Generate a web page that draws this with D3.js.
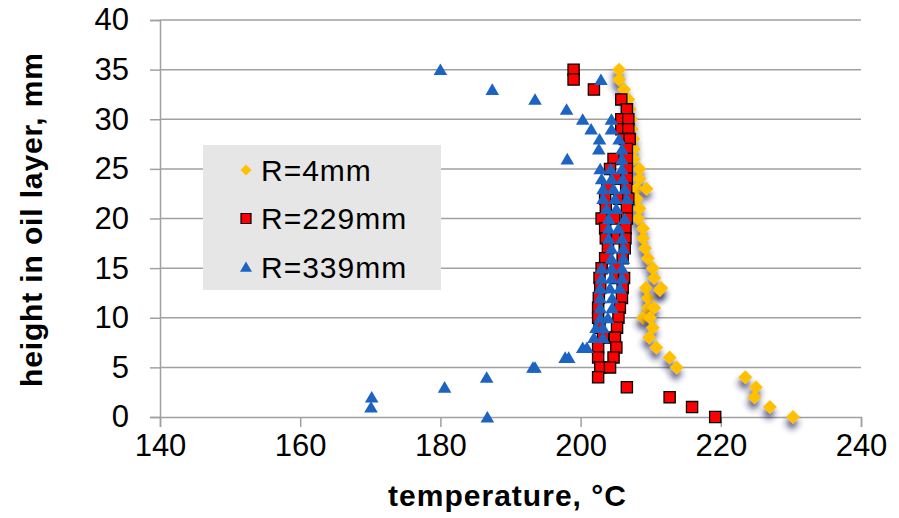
<!DOCTYPE html>
<html>
<head>
<meta charset="utf-8">
<script src="https://cdn.jsdelivr.net/npm/d3@7"></script>
<style>
    body { margin: 0; background: #fff; }
    text { font-family: "Liberation Sans", Arial, sans-serif; fill: #000; }
</style>
</head>
<body>
<script>
// R=4mm (diamonds)
var r4Temp = [205.5, 205.5, 206.2, 206.8, 207.0, 207.2, 207.3, 207.5, 207.6, 207.6, 208.4, 208.4, 208.0, 209.4, 208.0, 208.4, 208.2,
    208.9, 208.9, 209.2, 209.6, 210.3, 210.5, 211.5, 209.3, 209.6, 211.3, 209.6, 210.5, 208.9, 209.9, 210.3, 209.8, 210.8,
    212.7, 213.7, 223.5, 225.0, 224.8, 227.0, 230.3];
var r4Height = [35, 34, 33, 32, 31, 30, 29, 28, 27, 26, 25, 24, 23, 23, 22, 21, 20,
    19, 18, 17, 16, 15, 14, 13, 13, 12, 12.8, 11, 11, 10, 10, 9, 8, 7,
    6, 5, 4, 3, 2, 1, 0];

// R=229mm (squares)
var r229Temp = [199.0, 199.0, 201.9, 205.8, 206.6, 205.8, 206.8, 205.8, 206.8, 206.3, 207.0, 206.6, 204.7, 206.6, 204.2, 206.6,
    205.0, 206.6, 203.8, 206.5, 203.5, 205.5, 206.8, 203.6, 206.6, 203.0, 204.8, 206.6, 203.5, 206.4, 203.6, 205.2, 206.4,
    203.9, 206.3, 203.5, 206.0, 203.0, 205.2, 202.7, 205.0, 206.2, 202.8, 206.0, 202.6, 205.9,
    202.5, 205.6, 202.5, 205.4, 202.7, 205.2, 203.2, 204.9, 202.5, 205.1, 202.5, 204.7, 202.8, 204.2,
    202.5, 206.6, 212.7, 215.9, 219.2];
var r229Height = [35, 34, 33, 32, 31, 30, 30, 29, 29, 28, 28, 27, 26, 26, 25, 25,
    24, 24, 23, 23, 22, 22, 22, 21, 21, 20, 20, 20, 19, 19, 18, 18, 18,
    17, 17, 16, 16, 15, 15, 14, 14, 14, 13, 13, 12, 12,
    11, 11, 10, 10, 9, 9, 8, 8, 7, 7, 6, 6, 5, 5,
    4, 3, 2, 1, 0];

// R=339mm (triangles)
var r339Temp = [180.0, 202.9, 187.4, 193.5, 198.0, 200.3, 204.4, 201.5, 204.4, 202.7, 205.5, 202.6, 205.9, 198.1, 205.9,
    202.8, 204.3, 205.9, 203.0, 204.4, 206.0, 203.2, 204.7, 206.3, 203.2, 204.9, 206.6, 203.7, 205.1, 204.0, 206.3,
    204.0, 205.4, 204.0, 205.9, 204.4, 206.1, 204.4, 206.1, 203.0, 204.4, 205.9, 203.0, 204.4, 205.9, 202.8, 204.2, 205.6,
    202.8, 204.5, 202.8, 204.5, 202.8, 203.9, 202.2, 203.2, 201.9, 203.2, 200.3, 200.9, 197.8, 198.3, 193.2, 193.5,
    186.6, 180.6, 170.2, 170.1, 186.7];
var r339Height = [35, 34, 33, 32, 31, 30, 30, 29, 29, 28, 28, 27, 27, 26, 26,
    25, 25, 25, 24, 24, 24, 23, 23, 23, 22, 22, 22, 21, 21, 20, 20,
    19, 19, 18, 18, 17, 17, 16, 16, 15, 15, 15, 14, 14, 14, 13, 13, 13,
    12, 12, 11, 11, 10, 10, 9, 9, 8, 8, 7, 7, 6, 6, 5, 5,
    4, 3, 2, 1, 0];

var seriesNames = ['R=4mm', 'R=229mm', 'R=339mm'];
var xTicks = [140, 160, 180, 200, 220, 240];
var yTicks = [0, 5, 10, 15, 20, 25, 30, 35, 40];

var w = 899, h = 518;
var plotLeft = 160, plotRight = 861, plotTop = 20, plotBottom = 417;

var svg = d3.select('body')
    .append('svg')
    .attr('width', w)
    .attr('height', h);

// shadow for the diamonds
var defs = svg.append('defs');
var filt = defs.append('filter')
    .attr('id', 'shadow')
    .attr('x', '-150%').attr('y', '-150%')
    .attr('width', '400%').attr('height', '400%');
filt.append('feDropShadow')
    .attr('dx', -1)
    .attr('dy', 6)
    .attr('stdDeviation', 3)
    .attr('flood-color', '#23235a')
    .attr('flood-opacity', 0.75);

var x = d3.scaleLinear()
    .domain([140, 240])
    .range([plotLeft, plotRight]);
var y = d3.scaleLinear()
    .domain([0, 40])
    .range([plotBottom, plotTop]);

// gridlines
svg.append('g')
    .selectAll('line')
    .data(yTicks.filter(function(d) { return d > 0; }))
    .enter()
    .append('line')
    .attr('x1', plotLeft)
    .attr('x2', plotRight)
    .attr('y1', function(d) { return y(d); })
    .attr('y2', function(d) { return y(d); })
    .style('stroke', '#a0a0a0')
    .style('stroke-width', 1.5);

var xAxis = svg.append('g')
    .attr('transform', 'translate(0,' + plotBottom + ')')
    .call(d3.axisBottom(x).tickValues(xTicks).tickSize(10).tickPadding(7));
var yAxis = svg.append('g')
    .attr('transform', 'translate(' + plotLeft + ',0)')
    .call(d3.axisLeft(y).tickValues(yTicks).tickSize(10).tickPadding(21));

[xAxis, yAxis].forEach(function(a) {
    a.select('.domain').style('stroke', '#a0a0a0').style('stroke-width', 1.5);
    a.selectAll('.tick line').style('stroke', '#a0a0a0').style('stroke-width', 1.5);
    a.selectAll('.tick text')
        .style('font-family', '"Liberation Sans", Arial, sans-serif')
        .style('font-size', '31px')
        .style('fill', '#000');
});

// marker shapes
function diamond(s) {
    return 'M0,' + (-s) + 'L' + s + ',0L0,' + s + 'L' + (-s) + ',0Z';
}
function square(s) {
    return 'M' + (-s) + ',' + (-s) + 'H' + s + 'V' + s + 'H' + (-s) + 'Z';
}
function triangle(s) {
    return 'M0,' + (-s * 0.9) + 'L' + s + ',' + (s * 0.8) + 'L' + (-s) + ',' + (s * 0.8) + 'Z';
}

var r4 = r4Temp.map(function(d, i) { return { t: d, h: r4Height[i] }; });
var r229 = r229Temp.map(function(d, i) { return { t: d, h: r229Height[i] }; });
var r339 = r339Temp.map(function(d, i) { return { t: d, h: r339Height[i] }; });

svg.append('g')
    .selectAll('path')
    .data(r4)
    .enter()
    .append('path')
    .attr('d', diamond(7))
    .attr('transform', function(d) { return 'translate(' + x(d.t) + ',' + y(d.h) + ')'; })
    .attr('filter', 'url(#shadow)')
    .style('fill', '#ffc000');

svg.append('g')
    .selectAll('path')
    .data(r229)
    .enter()
    .append('path')
    .attr('d', square(5.6))
    .attr('transform', function(d) { return 'translate(' + x(d.t) + ',' + y(d.h) + ')'; })
    .style('fill', '#ff0000')
    .style('stroke', '#000')
    .style('stroke-width', 1.3);

svg.append('g')
    .selectAll('path')
    .data(r339)
    .enter()
    .append('path')
    .attr('d', triangle(6.8))
    .attr('transform', function(d) { return 'translate(' + x(d.t) + ',' + y(d.h) + ')'; })
    .style('fill', '#1c63c2');

// legend
var legend = svg.append('g').attr('transform', 'translate(203,145)');
legend.append('rect')
    .attr('width', 238)
    .attr('height', 145)
    .style('fill', '#e6e6e6');

var legendMarks = [
    { d: diamond(5.5), fill: '#ffc000', stroke: 'none' },
    { d: square(5), fill: '#ff0000', stroke: '#000' },
    { d: triangle(6), fill: '#1c63c2', stroke: 'none' }
];

var items = legend.selectAll('.item')
    .data(seriesNames)
    .enter()
    .append('g')
    .attr('class', 'item')
    .attr('transform', function(d, i) { return 'translate(0,' + (25 + i * 48.5) + ')'; });

items.append('path')
    .attr('d', function(d, i) { return legendMarks[i].d; })
    .attr('transform', 'translate(43,0)')
    .style('fill', function(d, i) { return legendMarks[i].fill; })
    .style('stroke', function(d, i) { return legendMarks[i].stroke; })
    .style('stroke-width', 1.2);

items.append('text')
    .attr('x', 58)
    .attr('y', 10.5)
    .style('font-size', '30px')
    .style('letter-spacing', '1px')
    .text(function(d) { return d; });

// axis titles
svg.append('text')
    .attr('x', 507)
    .attr('y', 506)
    .attr('text-anchor', 'middle')
    .attr('textLength', 238)
    .attr('lengthAdjust', 'spacing')
    .style('font-size', '30px')
    .style('font-weight', 'bold')
    .text('temperature, °C');

svg.append('text')
    .attr('transform', 'translate(42,220) rotate(-90)')
    .attr('text-anchor', 'middle')
    .attr('textLength', 334)
    .attr('lengthAdjust', 'spacing')
    .style('font-size', '30px')
    .style('font-weight', 'bold')
    .text('height in oil layer, mm');
</script>
</body>
</html>
